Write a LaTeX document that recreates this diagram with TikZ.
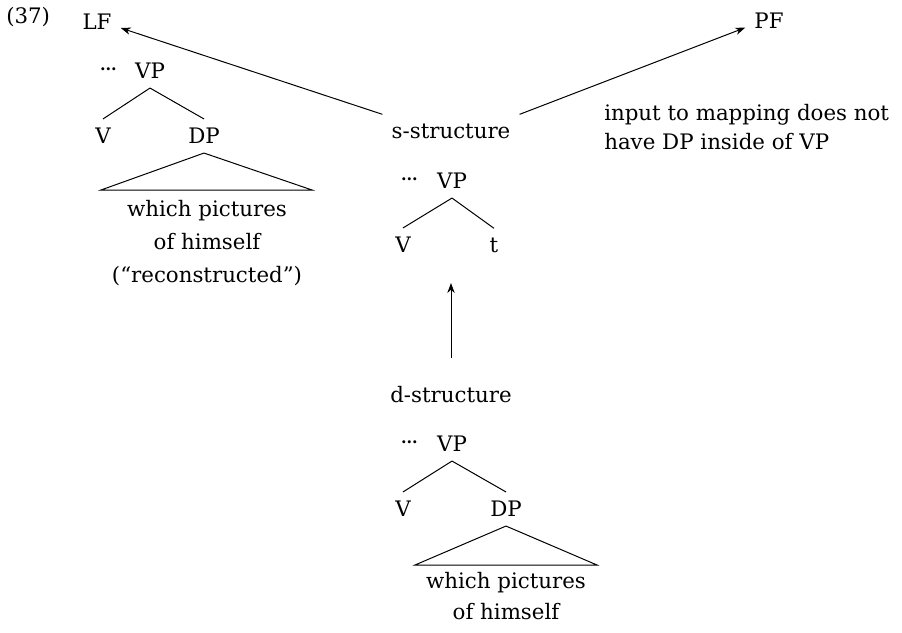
\documentclass[tikz,border=0pt]{standalone}
\usepackage{fontspec}
\setmainfont{DejaVu Serif}
\usetikzlibrary{arrows.meta}
\begin{document}
\begin{tikzpicture}[x=0.75pt,y=-0.75pt,
  every node/.style={font=\fontsize{16}{19}\selectfont},
  lbl/.style={inner sep=6.75pt},
  leaf/.style={inner sep=0pt, align=center, font=\fontsize{16}{24.75}\selectfont},
  edge/.style={line width=0.75pt},
  arr/.style={line width=0.75pt, -{Stealth[length=7.5pt,width=5.5pt]}}]
\useasboundingbox (0,0) rectangle (902,632);
% example number and interfaces
\node[anchor=west, inner sep=0pt] (num) at (6,17) {(37)};
\node[lbl] (lf) at (97,22) {LF};
\node[lbl] (pf) at (769,21) {PF};
\node[lbl] (ss) at (451,131) {s-structure};
\node[lbl] (ds) at (451,395) {d-structure};
\node[anchor=north west, inner sep=0pt, align=left, font=\fontsize{16}{21.5}\selectfont] (note) at (604,104) {input to mapping does not\\have DP inside of VP};
\draw[arr] (ss.north west) -- ([yshift=-4.5pt]lf.east);
\draw[arr] (ss.north east) -- ([yshift=-5pt]pf.west);
\coordinate (upS) at (451,358);
\coordinate (upE) at (451,283);
\draw[arr] (upS) -- (upE);
% left tree (LF)
\node[lbl] (lvp) at (150,71) {VP};
\node[anchor=east, inner sep=0pt] (ldots) at (117,70) {\textbf{\fontsize{12}{12}\selectfont\raisebox{1pt}{...}}};
\node[lbl] (lv) at (103,136) {V};
\node[lbl] (ldp) at (204,136) {DP};
\draw[edge] (lvp.south) -- (lv.north);
\draw[edge] (lvp.south) -- (ldp.north);
\coordinate (lbl1) at (101,190);
\coordinate (lbr1) at (312,190);
\draw[edge] (ldp.south) -- (lbl1) -- (lbr1) -- cycle;
\node[leaf, anchor=north] (ltxt) at (207,200) {which pictures\\of himself\\(“reconstructed”)};
% middle tree (s-structure)
\node[lbl] (mvp) at (452,181) {VP};
\node[anchor=east, inner sep=0pt] (mdots) at (418,180) {\textbf{\fontsize{12}{12}\selectfont\raisebox{1pt}{...}}};
\node[lbl] (mv) at (403,245) {V};
\node[lbl] (mt) at (494,245) {t};
\draw[edge] (mvp.south) -- (mv.north);
\draw[edge] (mvp.south) -- (mt.north);
% bottom tree (d-structure)
\node[lbl] (bvp) at (452,444) {VP};
\node[anchor=east, inner sep=0pt] (bdots) at (418,443) {\textbf{\fontsize{12}{12}\selectfont\raisebox{1pt}{...}}};
\node[lbl] (bv) at (403,509) {V};
\node[lbl] (bdp) at (506,509) {DP};
\draw[edge] (bvp.south) -- (bv.north);
\draw[edge] (bvp.south) -- (bdp.north);
\coordinate (bbl) at (415,565);
\coordinate (bbr) at (597,565);
\draw[edge] (bdp.south) -- (bbl) -- (bbr) -- cycle;
\node[leaf, anchor=north, font=\fontsize{16}{23.25}\selectfont] (btxt) at (506,572) {which pictures\\of himself};
\end{tikzpicture}
\end{document}
